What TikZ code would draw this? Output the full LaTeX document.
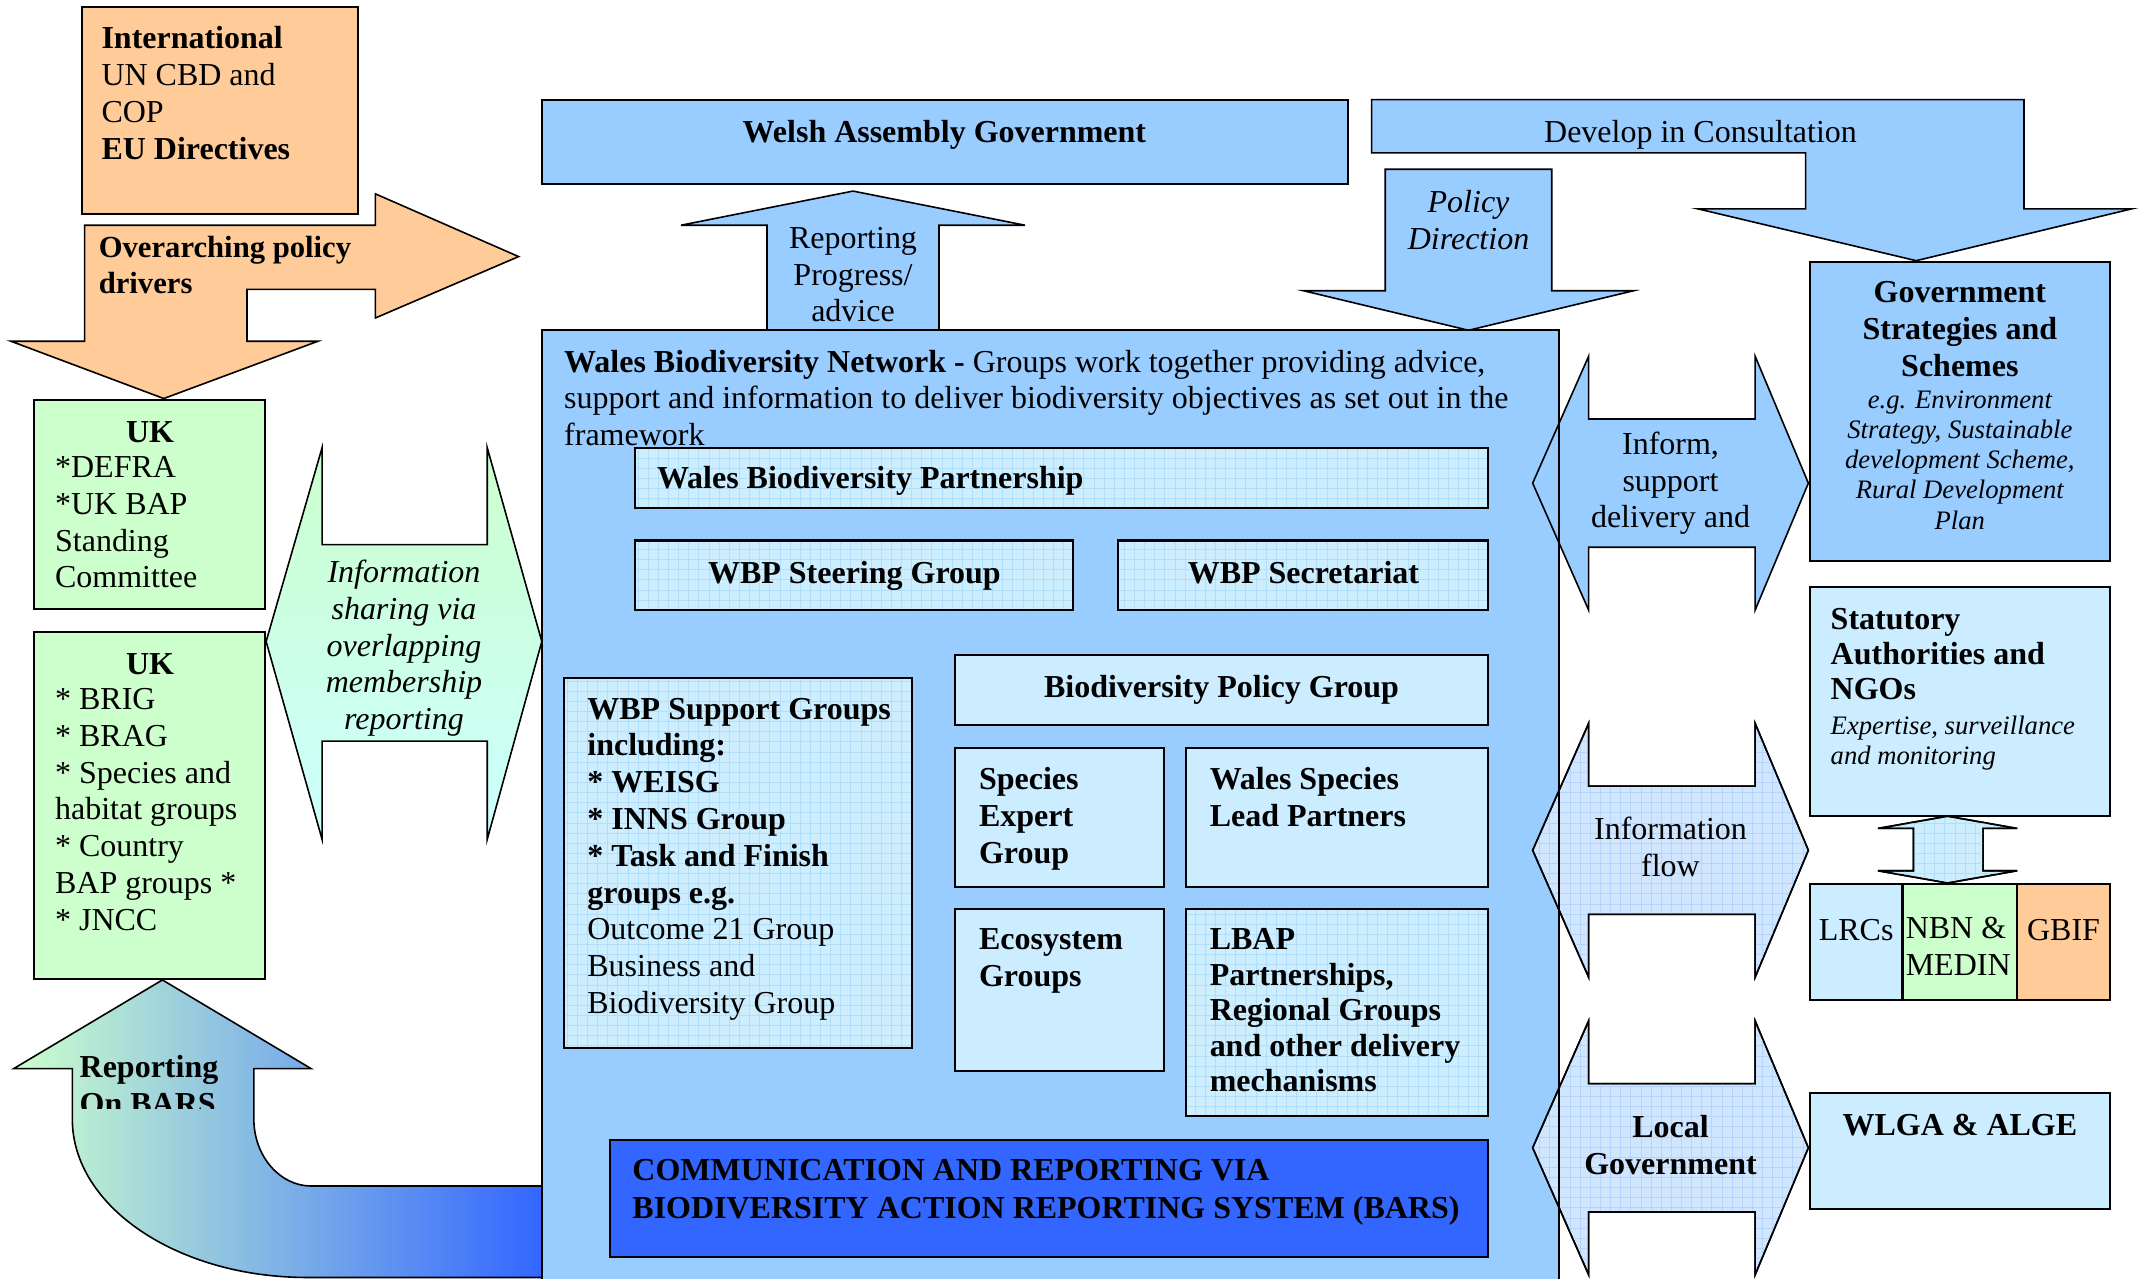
\documentclass[tikz,border=0pt]{standalone}
\usepackage{fontspec}
\setmainfont{Liberation Serif}
\usetikzlibrary{patterns.meta}

\definecolor{peach}{RGB}{255,204,153}
\definecolor{mint}{RGB}{204,255,204}
\definecolor{aqua}{RGB}{204,255,255}
\definecolor{sky}{RGB}{153,204,255}
\definecolor{pale}{RGB}{204,236,255}
\definecolor{gridbg}{RGB}{204,238,255}
\definecolor{gridln}{RGB}{178,222,250}
\definecolor{flowbg}{RGB}{208,230,255}
\definecolor{flowln}{RGB}{182,212,250}
\definecolor{royal}{RGB}{51,102,255}
\definecolor{midblue}{RGB}{150,200,232}

\begin{document}
\begin{tikzpicture}[x=0.512pt,y=-0.512pt,
  box/.style={draw,line width=0.8pt},
  arr/.style={draw,line width=0.6pt,line join=miter},
  skyfill/.style={fill=sky},
  gridfill/.style={fill=gridbg,postaction={pattern={Hatch[angle=0,distance=3.8pt,line width=0.35pt]},pattern color=gridln},postaction={draw}},
  flowfill/.style={fill=flowbg,postaction={pattern={Hatch[angle=0,distance=3.8pt,line width=0.35pt]},pattern color=flowln},postaction={draw}},
  txt/.style={inner sep=0pt,anchor=north west,align=left,font=\fontsize{12}{13.8}\selectfont,execute at begin node=\strut},
  ctr/.style={txt,anchor=north,align=center},
  note/.style={font=\fontsize{10}{11.3}\selectfont\itshape}]

\useasboundingbox (0,0) rectangle (1568,937);
\clip (0,0) rectangle (1568,937);

% left column
\draw[box,fill=peach] (60,5) rectangle (262,157);
\draw[arr,fill=peach] (62,165) -- (275,165) -- (275,142) -- (380,188) -- (275,233) -- (275,212)
  -- (181,212) -- (181,250) -- (233,250) -- (120,292) -- (8,250) -- (62,250) -- cycle;
\draw[box,fill=mint] (25,293) rectangle (194,446);
\draw[box,fill=mint] (25,463) rectangle (194,717);
\draw[arr,top color=mint,bottom color=aqua] (195,470) -- (236,328) -- (236,399) -- (357,399) -- (357,328)
  -- (397,470) -- (357,615) -- (357,543) -- (236,543) -- (236,615) -- cycle;
\draw[arr,left color=mint,middle color=midblue,right color=royal]
  (119,718) -- (228,783) -- (186,783) -- (186,820)
  .. controls (186,847) and (205,869) .. (228,869) -- (397,869) -- (397,936) -- (225,936)
  .. controls (130,936) and (53,884) .. (53,820) -- (53,783) -- (10,783) -- cycle;

\node[txt] (intl) at (74,19) {\textbf{International}\\UN CBD and\\COP\\\textbf{EU Directives}};
\node[txt,font=\fontsize{11.5}{13.5}\selectfont\bfseries] (drivers) at (72,173) {Overarching policy\\drivers};
\node[ctr] (ukhead) at (110,305) {\textbf{UK}};
\node[txt] (uklist) at (40,334) {*DEFRA\\*UK BAP\\Standing\\Committee};
\node[ctr] (ukhead2) at (110,475) {\textbf{UK}};
\node[txt] (uklist2) at (40,504) {* BRIG\\* BRAG\\* Species and\\habitat groups\\* Country\\BAP groups *\\* JNCC};
\node[ctr,font=\fontsize{12}{13.8}\selectfont\itshape] (share) at (296,410)
  {Information\\sharing via\\overlapping\\membership\\reporting};
\begin{scope}
\clip (0,700) rectangle (397,812);
\node[txt] (bars) at (58,773) {\textbf{Reporting}\\\textbf{On BARS}};
\end{scope}

% top row
\draw[box,fill=sky] (397,73) rectangle (988,135);
\draw[arr,fill=sky] (625,140) -- (751,165) -- (688,165) -- (688,242) -- (562,242) -- (562,165) -- (499,165) -- cycle;
\draw[arr,fill=sky] (1005,73) -- (1483,73) -- (1483,153) -- (1562,153) -- (1404,191) -- (1244,153)
  -- (1323,153) -- (1323,112) -- (1005,112) -- cycle;
\draw[arr,fill=sky] (1015,124) -- (1137,124) -- (1137,213) -- (1197,213) -- (1076,242) -- (955,213) -- (1015,213) -- cycle;

\node[ctr] (wag) at (692,85) {\textbf{Welsh Assembly Government}};
\node[ctr] (progress) at (625,166) {Reporting\\Progress/\\advice};
\node[ctr] (develop) at (1246,85) {Develop in Consultation};
\node[ctr,font=\fontsize{12}{13.8}\selectfont\itshape] (policy) at (1076,139) {Policy\\Direction};

% network
\draw[box,fill=sky] (397,242) rectangle (1142,945);
\draw[box,gridfill] (465,328) rectangle (1090,372);
\draw[box,gridfill] (465,396) rectangle (786,447);
\draw[box,gridfill] (819,396) rectangle (1090,447);
\draw[box,fill=pale] (700,480) rectangle (1090,531);
\draw[box,gridfill] (413,497) rectangle (668,768);
\draw[box,fill=pale] (700,548) rectangle (853,650);
\draw[box,fill=pale] (869,548) rectangle (1090,650);
\draw[box,fill=pale] (700,666) rectangle (853,785);
\draw[box,gridfill] (869,666) rectangle (1090,818);
\draw[box,fill=royal] (447,835) rectangle (1090,921);

\node[txt] (wbn) at (413,256) {\textbf{Wales Biodiversity Network -} Groups work together providing advice,\\support and information to deliver biodiversity objectives as set out in the\\framework};
\node[txt] (wbp) at (481,339) {\textbf{Wales Biodiversity Partnership}};
\node[ctr] (steering) at (626,408) {\textbf{WBP Steering Group}};
\node[ctr] (secretariat) at (955,408) {\textbf{WBP Secretariat}};
\node[ctr] (bpg) at (895,492) {\textbf{Biodiversity Policy Group}};
\node[txt] (support) at (430,511) {\textbf{WBP Support Groups}\\\textbf{including:}\\\textbf{* WEISG}\\\textbf{* INNS Group}\\\textbf{* Task and Finish}\\\textbf{groups e.g.}\\Outcome 21 Group\\Business and\\Biodiversity Group};
\node[txt] (expert) at (717,562) {\textbf{Species}\\\textbf{Expert}\\\textbf{Group}};
\node[txt] (leads) at (886,562) {\textbf{Wales Species}\\\textbf{Lead Partners}};
\node[txt] (eco) at (717,680) {\textbf{Ecosystem}\\\textbf{Groups}};
\node[txt,font=\fontsize{12}{13.3}\selectfont] (lbap) at (886,680) {\textbf{LBAP}\\\textbf{Partnerships,}\\\textbf{Regional Groups}\\\textbf{and other delivery}\\\textbf{mechanisms}};
\node[txt,font=\fontsize{12}{14.3}\selectfont] (comm) at (463,849) {\textbf{COMMUNICATION AND REPORTING VIA}\\\textbf{BIODIVERSITY ACTION REPORTING SYSTEM (BARS)}};

% right column
\foreach \ty/\sty in {354/skyfill, 623/flowfill, 841/flowfill}
  \draw[arr,\sty] (1123,\ty) -- (1164,\ty-93) -- (1164,\ty-47) -- (1286,\ty-47) -- (1286,\ty-93) -- (1325,\ty)
    -- (1286,\ty+93) -- (1286,\ty+47) -- (1164,\ty+47) -- (1164,\ty+93) -- cycle;
\draw[line width=0.8pt] (1142,242) -- (1142,945);

\draw[box,fill=sky] (1326,192) rectangle (1546,411);
\draw[box,fill=pale] (1326,430) rectangle (1546,598);
\draw[arr,gridfill] (1427,598) -- (1478,607) -- (1453,607) -- (1453,638) -- (1478,638) -- (1427,647)
  -- (1376,638) -- (1402,638) -- (1402,607) -- (1376,607) -- cycle;
\draw[box,fill=pale] (1326,648) rectangle (1394,733);
\draw[box,fill=mint] (1394,648) rectangle (1478,733);
\draw[box,fill=peach] (1478,648) rectangle (1546,733);
\draw[box,fill=pale] (1326,801) rectangle (1546,886);

\node[ctr] (inform) at (1224,316) {Inform,\\support\\delivery and};
\node[ctr] (flow) at (1224,598) {Information\\flow};
\node[ctr] (localgov) at (1224,817) {\textbf{Local}\\\textbf{Government}};
\node[ctr] (govhead) at (1436,206) {\textbf{Government}\\\textbf{Strategies and}\\\textbf{Schemes}};
\node[ctr,note] (govnote) at (1436,286) {e.g. Environment\\Strategy, Sustainable\\development Scheme,\\Rural Development\\Plan};
\node[txt,font=\fontsize{12}{13.3}\selectfont] (stathead) at (1341,445) {\textbf{Statutory}\\\textbf{Authorities and}\\\textbf{NGOs}};
\node[txt,note] (statnote) at (1341,524) {Expertise, surveillance\\and monitoring};
\node[ctr] (lrc) at (1360,670) {LRCs};
\node[txt] (nbn) at (1396,672) {NBN \&\\MEDIN};
\node[ctr] (gbif) at (1512,670) {GBIF};
\node[ctr] (wlga) at (1436,813) {\textbf{WLGA \& ALGE}};

\end{tikzpicture}
\end{document}
